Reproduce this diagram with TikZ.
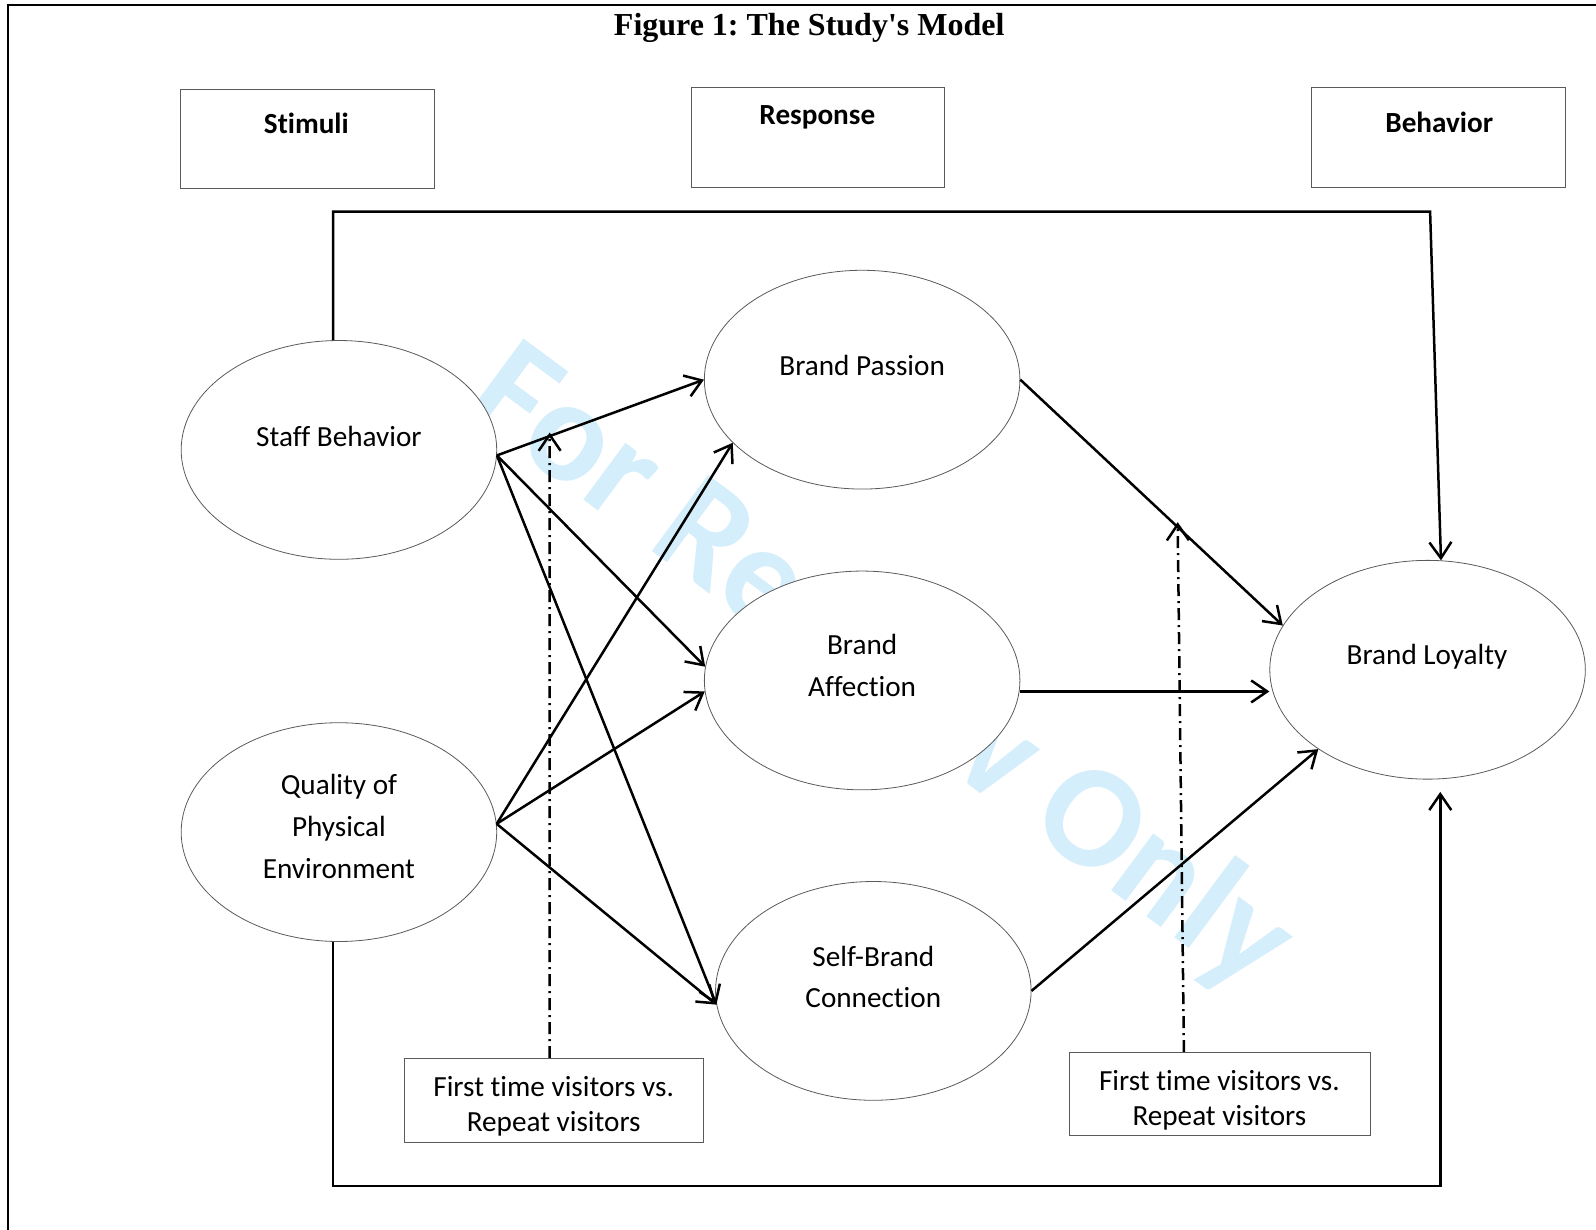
\documentclass[tikz,border=0pt]{standalone}
\usepackage{fontspec}
\setmainfont{Carlito}[Ligatures={TeX,NoCommon,NoRare}]
\newfontfamily\titlefont{Liberation Serif}
\usetikzlibrary{shapes.geometric, arrows.meta}
\definecolor{marcaAgua}{RGB}{212, 238, 251}
\definecolor{bordeGris}{RGB}{90, 90, 90}
\frenchspacing

\begin{document}
\begin{tikzpicture}[x=0.509pt, y=-0.509pt,
    elipse/.style={ellipse, draw=bordeGris, line width=0.4pt, fill=white, minimum width=157.8pt, minimum height=109.4pt, inner sep=0pt},
    caja/.style={rectangle, draw=bordeGris, line width=0.5pt, fill=white, inner sep=0pt},
    texto/.style={font=\fontsize{14.6}{20.8}\selectfont, align=center, inner sep=0pt},
    textoMod/.style={font=\fontsize{14.6}{17.6}\selectfont, align=center, inner sep=0pt},
    encabezado/.style={font=\fontsize{14.6}{17.6}\selectfont\bfseries, inner sep=0pt},
    flecha/.style={-{Straight Barb[length=8pt, width=11pt]}, line width=1.25pt},
    moderador/.style={flecha, dash pattern=on 6pt off 2.5pt on 1pt off 2.5pt}]
        \useasboundingbox (0,0) rectangle (1568,1208);
        % marca de agua y marco
        \node[rotate=-36.5, text=marcaAgua, font=\fontsize{73}{73}\selectfont\bfseries] (agua) at (865,659) {For Review Only};
        \draw[line width=1pt] (8,1208) -- (8,5) -- (1568,5);
        \node[font=\titlefont\bfseries\fontsize{16}{19}\selectfont] (titulo) at (795,27) {Figure 1: The Study's Model};
        % encabezados
        \node[caja, minimum width=127.3pt, minimum height=49.4pt] (estimulos) at (302,136.5) {};
        \node[caja, minimum width=126.8pt, minimum height=49.9pt] (respuesta) at (803.5,135) {};
        \node[caja, minimum width=126.8pt, minimum height=49.9pt] (conducta) at (1413.5,135) {};
        \node[encabezado] (estimulosT) at (301,121) {Stimuli};
        \node[encabezado] (respuestaT) at (803,115) {Response};
        \node[encabezado] (conductaT) at (1414,120) {Behavior};
        % constructos
        \node[elipse] (personal) at (333,442) {};
        \node[elipse] (calidad) at (333,817.5) {};
        \node[elipse] (pasion) at (847,373) {};
        \node[elipse] (afecto) at (847,668.5) {};
        \node[elipse] (conexion) at (858,973.5) {};
        \node[elipse] (lealtad) at (1402.5,658) {};
        \node[texto] (personalT) at (333,429) {Staff Behavior};
        \node[texto] (calidadT) at (333,812) {Quality of\\Physical\\Environment};
        \node[texto] (pasionT) at (847,359) {Brand Passion};
        \node[texto] (afectoT) at (847,654) {Brand\\Affection};
        \node[texto] (conexionT) at (858,960) {Self-Brand\\Connection};
        \node[texto] (lealtadT) at (1402,645) {Brand Loyalty};
        % moderadores
        \node[caja, minimum width=149.6pt, minimum height=41.7pt] (mod1) at (544,1081) {};
        \node[caja, minimum width=150.1pt, minimum height=41.7pt] (mod2) at (1198.5,1075) {};
        \node[textoMod] (mod1T) at (544,1087) {First time visitors vs.\\Repeat visitors};
        \node[textoMod] (mod2T) at (1198,1081) {First time visitors vs.\\Repeat visitors};
        % relaciones
        \draw[flecha] (personal.-2) -- (pasion.west);
        \draw[flecha] (personal.-2) -- (afecto.175);
        \draw[flecha] (personal.-2) -- (conexion.185);
        \draw[flecha] (calidad.3) -- (pasion.206);
        \draw[flecha] (calidad.3) -- (afecto.184);
        \draw[flecha] (calidad.3) -- (conexion.185);
        \draw[flecha] (pasion.east) -- (lealtad.163);
        \draw[flecha] (afecto.-4) -- (afecto.-4 -| lealtad.west);
        \draw[flecha] (conexion.east) -- (lealtad.216);
        \coordinate (esqSup) at (1405,208);
        \draw[flecha] (personal.93) |- (esqSup) -- (lealtad.83);
        \coordinate (esqInf) at (1415,1165);
        \coordinate (puntaInf) at (1415,778);
        \draw[flecha] (calidad.267) |- (esqInf) -- (puntaInf);
        \coordinate (punta1) at (540,425);
        \coordinate (punta2) at (1157,513);
        \draw[moderador] ([xshift=-2pt]mod1.north) -- (punta1);
        \draw[moderador] ([xshift=-18pt]mod2.north) -- (punta2);
    \end{tikzpicture}
\end{document}
